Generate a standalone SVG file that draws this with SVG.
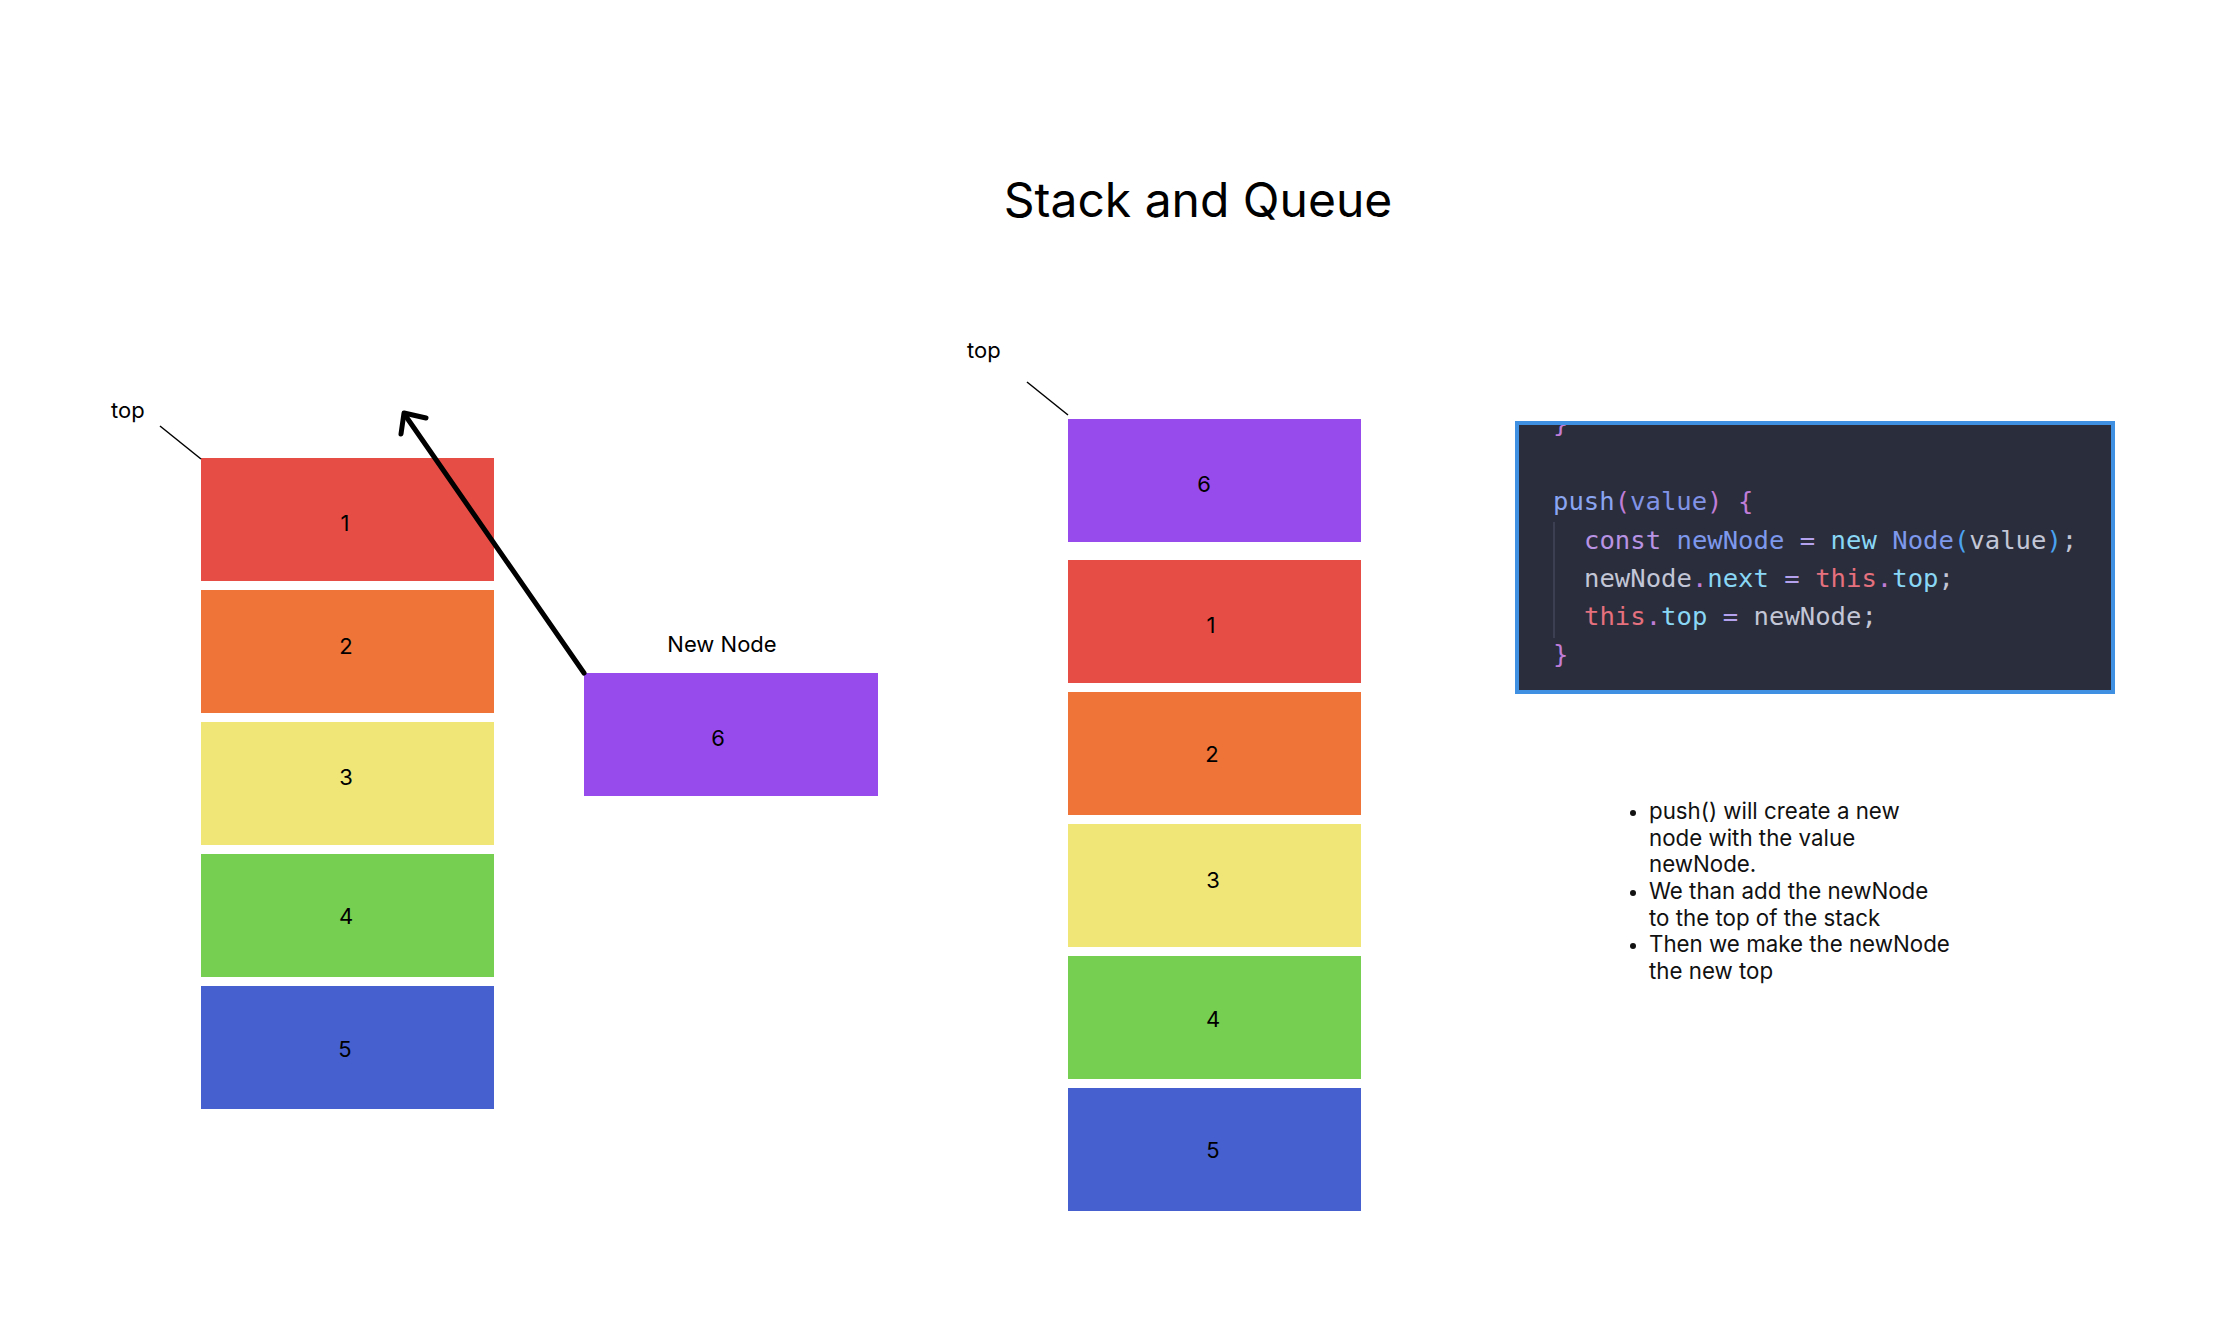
<svg xmlns="http://www.w3.org/2000/svg" width="2236" height="1334" viewBox="0 0 2236 1334">
  <style>
    .lbl { font-family: Inter, "Liberation Sans", sans-serif; font-size: 22px; fill: #000; }
    .num { font-family: Inter, "Liberation Sans", sans-serif; font-size: 22px; fill: #000; text-anchor: middle; }
    .title { font-family: Inter, "Liberation Sans", sans-serif; font-size: 48px; fill: #000; text-anchor: middle; }
    .bul { font-family: Inter, "Liberation Sans", sans-serif; font-size: 22.3px; fill: #111; }
    .code { font-family: "DejaVu Sans Mono", "Liberation Mono", monospace; font-size: 25.6px; }
    .red { fill: #e54d45; }
    .orange { fill: #ee7437; }
    .yellow { fill: #f0e678; }
    .green { fill: #77cf51; }
    .blue { fill: #4660cf; }
    .purple { fill: #974bec; }
    .ptr { stroke: #000; stroke-width: 1.5; fill: none; }
  </style>
  <defs>
    <clipPath id="codeClip">
      <rect x="1519" y="425" width="592" height="265"/>
    </clipPath>
  </defs>
  <rect width="2236" height="1334" fill="#ffffff"/>

  <text class="title" x="1198" y="217">Stack and Queue</text>

  <!-- Left stack -->
  <g id="left-top-label">
    <text class="lbl" x="111" y="418">top</text>
  </g>
  <g id="left-node-1"><rect class="red" x="201" y="458" width="293" height="123"/><text class="num" x="345" y="531">1</text></g>
  <g id="left-node-2"><rect class="orange" x="201" y="590" width="293" height="123"/><text class="num" x="346" y="654">2</text></g>
  <g id="left-node-3"><rect class="yellow" x="201" y="722" width="293" height="123"/><text class="num" x="346" y="785">3</text></g>
  <g id="left-node-4"><rect class="green" x="201" y="854" width="293" height="123"/><text class="num" x="346" y="924">4</text></g>
  <g id="left-node-5"><rect class="blue" x="201" y="986" width="293" height="123"/><text class="num" x="345" y="1057">5</text></g>

  <!-- New node -->
  <g id="new-node">
    <text class="lbl" x="722" y="652" text-anchor="middle">New Node</text>
    <rect class="purple" x="584" y="673" width="294" height="123"/>
    <text class="num" x="718" y="746">6</text>
  </g>

  <!-- Right stack -->
  <g id="right-top-label">
    <text class="lbl" x="967" y="358">top</text>
  </g>
  <g id="right-node-6"><rect class="purple" x="1068" y="419" width="293" height="123"/><text class="num" x="1204" y="492">6</text></g>
  <g id="right-node-1"><rect class="red" x="1068" y="560" width="293" height="123"/><text class="num" x="1211" y="633">1</text></g>
  <g id="right-node-2"><rect class="orange" x="1068" y="692" width="293" height="123"/><text class="num" x="1212" y="762">2</text></g>
  <g id="right-node-3"><rect class="yellow" x="1068" y="824" width="293" height="123"/><text class="num" x="1213" y="888">3</text></g>
  <g id="right-node-4"><rect class="green" x="1068" y="956" width="293" height="123"/><text class="num" x="1213" y="1027">4</text></g>
  <g id="right-node-5"><rect class="blue" x="1068" y="1088" width="293" height="123"/><text class="num" x="1213" y="1158">5</text></g>

  <!-- Connectors -->
  <g id="connectors">
    <line class="ptr" x1="160" y1="426" x2="201" y2="459"/>
    <line class="ptr" x1="1027" y1="382" x2="1068" y2="415"/>
    <line x1="584" y1="673" x2="405" y2="415" stroke="#000" stroke-width="5" stroke-linecap="round"/>
    <polyline points="401,434 404,413 426,418" fill="none" stroke="#000" stroke-width="5" stroke-linecap="round" stroke-linejoin="round"/>
  </g>

  <!-- Code panel -->
  <g id="code-panel">
    <rect x="1517" y="423" width="596" height="269" fill="#2a2d3b" stroke="#3f8fe3" stroke-width="4"/>
    <g clip-path="url(#codeClip)">
      <text class="code" x="1553" y="432" fill="#c07dd8">}</text>
    </g>
    <line x1="1554" y1="522" x2="1554" y2="638" stroke="#3b3f51" stroke-width="2"/>
    <text class="code" x="1553" y="510" xml:space="preserve"><tspan fill="#8aa5f2">push</tspan><tspan fill="#c07dd8">(</tspan><tspan fill="#8193e6">value</tspan><tspan fill="#c07dd8">)</tspan> <tspan fill="#c07dd8">{</tspan></text>
    <text class="code" x="1584" y="548.5" xml:space="preserve"><tspan fill="#b892e3">const</tspan> <tspan fill="#7d98ec">newNode</tspan> <tspan fill="#b4a2ee">=</tspan> <tspan fill="#89d6f5">new</tspan> <tspan fill="#7d98ec">Node</tspan><tspan fill="#4aa3f0">(</tspan><tspan fill="#c2c6d6">value</tspan><tspan fill="#4aa3f0">)</tspan><tspan fill="#c2c6d6">;</tspan></text>
    <text class="code" x="1584" y="587" xml:space="preserve"><tspan fill="#c2c6d6">newNode</tspan><tspan fill="#c07dd8">.</tspan><tspan fill="#89d6f5">next</tspan> <tspan fill="#b4a2ee">=</tspan> <tspan fill="#e5707e">this</tspan><tspan fill="#c07dd8">.</tspan><tspan fill="#89d6f5">top</tspan><tspan fill="#c2c6d6">;</tspan></text>
    <text class="code" x="1584" y="625" xml:space="preserve"><tspan fill="#e5707e">this</tspan><tspan fill="#c07dd8">.</tspan><tspan fill="#89d6f5">top</tspan> <tspan fill="#b4a2ee">=</tspan> <tspan fill="#c2c6d6">newNode;</tspan></text>
    <text class="code" x="1553" y="663" fill="#c07dd8">}</text>
  </g>

  <!-- Bullet notes -->
  <g id="notes">
    <circle cx="1633" cy="813" r="3" fill="#111"/>
    <circle cx="1633" cy="893" r="3" fill="#111"/>
    <circle cx="1633" cy="946" r="3" fill="#111"/>
    <text class="bul" x="1649" y="819">push() will create a new</text>
    <text class="bul" x="1649" y="846">node with the value</text>
    <text class="bul" x="1649" y="872">newNode.</text>
    <text class="bul" x="1649" y="899">We than add the newNode</text>
    <text class="bul" x="1649" y="926">to the top of the stack</text>
    <text class="bul" x="1649" y="952">Then we make the newNode</text>
    <text class="bul" x="1649" y="979">the new top</text>
  </g>
</svg>
